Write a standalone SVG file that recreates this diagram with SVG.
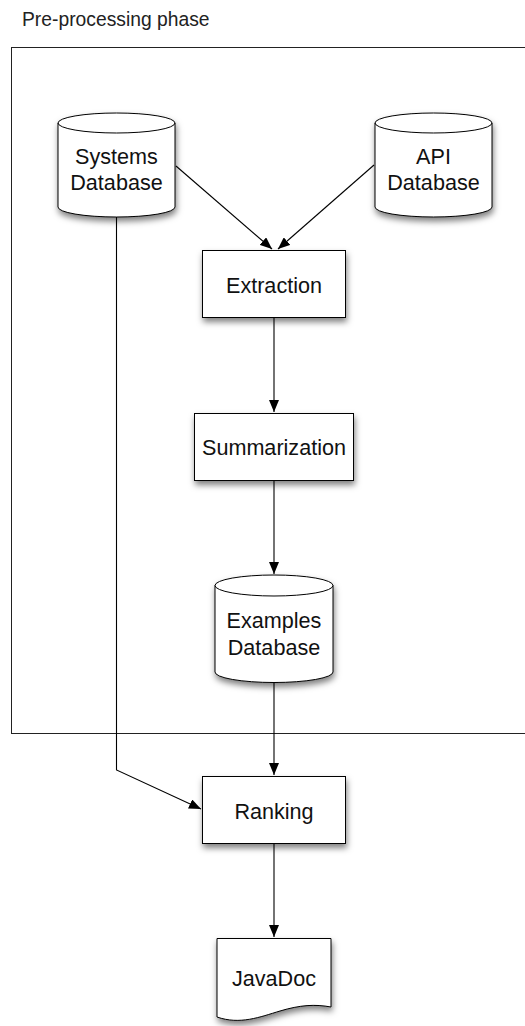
<svg xmlns="http://www.w3.org/2000/svg" width="525" height="1026" viewBox="0 0 525 1026">
<style>
text{font-family:"Liberation Sans",Arial,sans-serif;font-size:21.6px;fill:#111;text-anchor:middle}
.title{font-size:19.3px;text-anchor:start;fill:#222}
.node{fill:#fff;stroke:#000;stroke-width:1;filter:url(#sh)}
.edge{fill:none;stroke:#000;stroke-width:1.1}
.frame{fill:none;stroke:#222;stroke-width:1}
</style>
<defs>
<filter id="sh" x="-20%" y="-20%" width="150%" height="160%">
<feDropShadow dx="1" dy="4" stdDeviation="3" flood-color="#000" flood-opacity="0.5"/>
</filter>
<marker id="arr" viewBox="0 0 12 10" refX="12" refY="5" markerWidth="12" markerHeight="10" markerUnits="userSpaceOnUse" orient="auto">
<path d="M0,0 L12,5 L0,10 Z" fill="#000"/>
</marker>
</defs>
<rect width="525" height="1026" fill="#fff"/>
<text class="title" x="22" y="26">Pre-processing phase</text>
<rect class="frame" x="11.5" y="47.5" width="520" height="686"/>
<g id="connectors">
<line class="edge" x1="176" y1="166" x2="272" y2="249" marker-end="url(#arr)"/>
<line class="edge" x1="374" y1="165" x2="278" y2="249" marker-end="url(#arr)"/>
<line class="edge" x1="274" y1="318" x2="274" y2="412" marker-end="url(#arr)"/>
<line class="edge" x1="274" y1="481" x2="274" y2="574" marker-end="url(#arr)"/>
<line class="edge" x1="274" y1="682" x2="274" y2="775" marker-end="url(#arr)"/>
<polyline class="edge" points="116.5,217 116.5,770 201,809" marker-end="url(#arr)"/>
<line class="edge" x1="274" y1="844" x2="274" y2="937" marker-end="url(#arr)"/>
</g>
<g id="systems-db">
<path class="node" d="M58,123 A58.5,10 0 0 1 175,123 L175,207 A58.5,10 0 0 1 58,207 Z"/>
<path d="M58,123 A58.5,10 0 0 0 175,123" fill="none" stroke="#000"/>
<text x="116.5" y="164">Systems</text>
<text x="116.5" y="190">Database</text>
</g>
<g id="api-db">
<path class="node" d="M375,123 A58.5,10 0 0 1 492,123 L492,207 A58.5,10 0 0 1 375,207 Z"/>
<path d="M375,123 A58.5,10 0 0 0 492,123" fill="none" stroke="#000"/>
<text x="433.5" y="164">API</text>
<text x="433.5" y="190">Database</text>
</g>
<g id="extraction">
<rect class="node" x="202.5" y="250.5" width="143" height="67"/>
<text x="274" y="293">Extraction</text>
</g>
<g id="summarization">
<rect class="node" x="194.5" y="413.5" width="159" height="67"/>
<text x="274" y="455">Summarization</text>
</g>
<g id="examples-db">
<path class="node" d="M215,585.5 A59,10.5 0 0 1 333,585.5 L333,672 A59,10.5 0 0 1 215,672 Z"/>
<path d="M215,585.5 A59,10.5 0 0 0 333,585.5" fill="none" stroke="#000"/>
<text x="274" y="628">Examples</text>
<text x="274" y="655">Database</text>
</g>
<g id="ranking">
<rect class="node" x="202.5" y="776.5" width="143" height="67"/>
<text x="274" y="819">Ranking</text>
</g>
<g id="javadoc">
<path class="node" d="M217,938.5 H331 V1007 C315,1004 300,1005 280,1011 C260,1017 240,1025 217,1017 Z"/>
<text x="274" y="986">JavaDoc</text>
</g>
</svg>
